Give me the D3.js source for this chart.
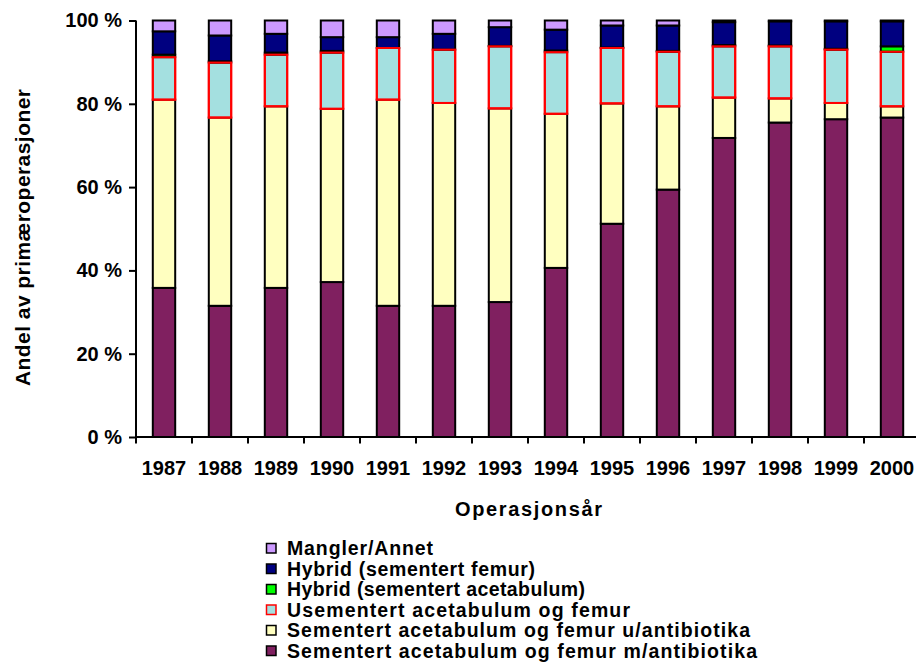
<!DOCTYPE html>
<html>
<head>
<meta charset="utf-8">
<script src="https://cdn.jsdelivr.net/npm/d3@7"></script>
<style>
  html, body { margin: 0; padding: 0; background: #fff; }
  svg { display: block; font-family: "Liberation Sans", Arial, sans-serif; font-weight: bold; }
</style>
</head>
<body>
<svg id="chart" width="916" height="662"></svg>
<script>
// ---- data (percent of primary operations) ----
const years = ["1987","1988","1989","1990","1991","1992","1993","1994","1995","1996","1997","1998","1999","2000"];
const sementertMed   = [35.8, 31.5, 35.8, 37.2, 31.5, 31.5, 32.4, 40.6, 51.2, 59.4, 71.8, 75.5, 76.3, 76.7];
const sementertUten  = [45.2, 45.2, 43.6, 41.6, 49.5, 48.7, 46.5, 37.0, 28.9, 20.0,  9.7,  5.8,  3.9,  2.7];
const usementert     = [10.2, 13.2, 12.4, 13.5, 12.4, 12.8, 14.9, 14.8, 13.3, 13.1, 12.3, 12.5, 12.8, 13.1];
const hybridAcet     = [ 0.6,  0.3,  0.5,  0.4,  0.0,  0.0,  0.1,  0.4,  0.1,  0.2,  0.3,  0.2,  0.2,  1.3];
const hybridFemur    = [ 5.6,  6.2,  4.5,  3.3,  2.6,  3.8,  4.5,  5.0,  5.3,  6.1,  5.5,  5.8,  6.6,  6.0];
const mangler        = [ 2.6,  3.6,  3.2,  4.0,  4.0,  3.2,  1.6,  2.2,  1.2,  1.2,  0.4,  0.2,  0.2,  0.2];
const yTicks = [0, 20, 40, 60, 80, 100];

const seriesNames = [
  "Sementert acetabulum og femur m/antibiotika",
  "Sementert acetabulum og femur u/antibiotika",
  "Usementert acetabulum og femur",
  "Hybrid (sementert acetabulum)",
  "Hybrid (sementert femur)",
  "Mangler/Annet"
];
const seriesValues = [sementertMed, sementertUten, usementert, hybridAcet, hybridFemur, mangler];
const fills   = ["#802060", "#FFFFC0", "#A4E0E0", "#00FF00", "#000080", "#CC99FF"];
const strokes = ["#000", "#000", "#FF0000", "#000", "#000", "#000"];
const legendWidths = [470, 463, 343, 298, 248, 146];

const svg = d3.select("#chart");

const pLeft = 136, pRight = 920, pTop = 20.5, pBottom = 437;
const x = d3.scaleBand().domain(years).range([pLeft, pRight]).paddingInner(0.6).paddingOuter(0.3);
const y = d3.scaleLinear().domain([0, 100]).range([pBottom, pTop]);

// stack
const rows = years.map((yr, i) => {
  const o = { year: yr };
  seriesNames.forEach((n, k) => o[n] = seriesValues[k][i]);
  return o;
});
const stacked = d3.stack().keys(seriesNames)(rows);

// bars
stacked.forEach((layer, k) => {
  svg.append("g")
    .selectAll("rect")
    .data(layer.filter(d => d[1] - d[0] > 0))
    .join("rect")
    .attr("x", d => x(d.data.year))
    .attr("width", x.bandwidth())
    .attr("y", d => y(d[1]))
    .attr("height", d => y(d[0]) - y(d[1]))
    .attr("fill", fills[k])
    .attr("stroke", strokes[k])
    .attr("stroke-width", 2);
});
// redraw red outlines on top of neighbours' black outline
svg.append("g")
  .selectAll("rect")
  .data(stacked[2])
  .join("rect")
  .attr("x", d => x(d.data.year))
  .attr("width", x.bandwidth())
  .attr("y", d => y(d[1]))
  .attr("height", d => y(d[0]) - y(d[1]))
  .attr("fill", "none")
  .attr("stroke", "#FF0000")
  .attr("stroke-width", 2);

// y axis
const yAxis = svg.append("g")
  .attr("transform", `translate(${pLeft},0)`)
  .call(d3.axisLeft(y).tickValues(yTicks).tickSize(7).tickPadding(7).tickFormat(d => d + " %"));
yAxis.select(".domain").attr("stroke", "#000").attr("stroke-width", 2).attr("d", `M0,${pTop}V${pBottom}`);
yAxis.selectAll(".tick line").attr("stroke", "#000").attr("stroke-width", 2);
yAxis.selectAll(".tick text")
  .attr("font-size", 20).attr("font-weight", "bold").attr("fill", "#000")
  .attr("font-family", "Liberation Sans, Arial, sans-serif");

// x axis
const xAxisG = svg.append("g");
xAxisG.append("line")
  .attr("x1", pLeft).attr("x2", pRight).attr("y1", pBottom).attr("y2", pBottom)
  .attr("stroke", "#000").attr("stroke-width", 2);
const stepW = x.step();
xAxisG.selectAll("line.tk")
  .data(d3.range(years.length + 1))
  .join("line")
  .attr("class", "tk")
  .attr("x1", i => pLeft + i * stepW).attr("x2", i => pLeft + i * stepW)
  .attr("y1", pBottom).attr("y2", pBottom + 6.5)
  .attr("stroke", "#000").attr("stroke-width", 2);
xAxisG.selectAll("text")
  .data(years)
  .join("text")
  .attr("x", d => x(d) + x.bandwidth() / 2)
  .attr("y", 475)
  .attr("text-anchor", "middle")
  .attr("font-size", 20)
  .attr("fill", "#000")
  .text(d => d);

// axis titles
svg.append("text")
  .attr("x", 455).attr("y", 516)
  .attr("font-size", 20)
  .attr("textLength", 147).attr("lengthAdjust", "spacing")
  .text("Operasjonsår");

svg.append("text")
  .attr("transform", "translate(30,386) rotate(-90)")
  .attr("x", 0).attr("y", 0)
  .attr("font-size", 21)
  .attr("textLength", 297).attr("lengthAdjust", "spacing")
  .text("Andel av primæroperasjoner");

// legend (top to bottom: reverse stacking order)
const legendOrder = d3.range(seriesNames.length).reverse();
const lg = svg.append("g");
legendOrder.forEach((k, row) => {
  const base = 555 + row * 20.5;
  lg.append("rect")
    .attr("x", 266.5).attr("y", base - 11.5)
    .attr("width", 9.5).attr("height", 9.5)
    .attr("fill", fills[k]).attr("stroke", strokes[k]).attr("stroke-width", 1.5);
  lg.append("text")
    .attr("x", 287).attr("y", base)
    .attr("font-size", 19.5)
    .attr("textLength", legendWidths[k]).attr("lengthAdjust", "spacing")
    .text(seriesNames[k]);
});
</script>
</body>
</html>
